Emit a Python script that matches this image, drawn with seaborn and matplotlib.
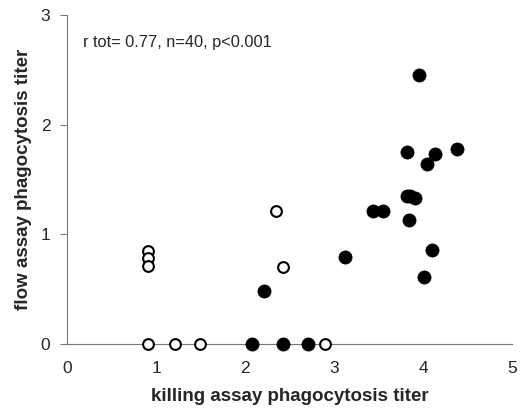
import numpy as np
import pandas as pd
import seaborn as sns
import matplotlib.pyplot as plt

# open circles (low killing titer group)
open_x = [0.91, 0.91, 0.91, 0.91, 1.21, 1.49, 2.35, 2.43, 2.90]
open_y = [0.85, 0.78, 0.71, 0.0, 0.0, 0.0, 1.21, 0.70, 0.0]

# filled circles
filled_x = [2.08, 2.43, 2.71, 2.21, 3.12, 3.44, 3.55, 3.82, 3.95, 3.82, 3.85,
            3.91, 3.84, 4.04, 4.13, 4.38, 4.10, 4.01]
filled_y = [0.0, 0.0, 0.0, 0.48, 0.79, 1.21, 1.21, 1.75, 2.45, 1.35, 1.35,
            1.33, 1.13, 1.64, 1.73, 1.78, 0.86, 0.61]

df_open = pd.DataFrame({'x': open_x, 'y': open_y})
df_filled = pd.DataFrame({'x': filled_x, 'y': filled_y})

sns.set_style('white')
plt.rcParams['font.family'] = ['Liberation Sans', 'DejaVu Sans']

fig = plt.figure(figsize=(5.24, 4.15), dpi=100)
ax = fig.add_axes([0.128, 0.171, 0.849, 0.793])

sns.scatterplot(x='x', y='y', data=df_open, ax=ax, s=60, marker='o',
                facecolor='white', edgecolor='black', linewidth=1.5,
                clip_on=False, zorder=3)
sns.scatterplot(x='x', y='y', data=df_filled, ax=ax, s=90, marker='o',
                color='black', edgecolor='black', linewidth=0.5,
                clip_on=False, zorder=3)

ax.set_xlim(0, 5)
ax.set_ylim(0, 3)
ax.set_xticks([0, 1, 2, 3, 4, 5])
ax.set_yticks([0, 1, 2, 3])

for side in ['top', 'right']:
    ax.spines[side].set_visible(False)
for side in ['left', 'bottom']:
    ax.spines[side].set_color('#777777')
    ax.spines[side].set_linewidth(0.8)

ax.tick_params(axis='y', left=True, length=5, width=0.8, color='#777777',
               labelsize=12.5, pad=7)
ax.tick_params(axis='x', bottom=False, labelsize=12.5, pad=9)

ax.set_xlabel('killing assay phagocytosis titer', fontsize=13.5, fontweight='bold',
              labelpad=8)
ax.set_ylabel('flow assay phagocytosis titer', fontsize=13.5, fontweight='bold',
              labelpad=6)

ax.text(0.035, 0.915, 'r tot= 0.77, n=40, p<0.001', transform=ax.transAxes,
        fontsize=11.8, ha='left', va='center')

fig.savefig('out.png', dpi=100)
